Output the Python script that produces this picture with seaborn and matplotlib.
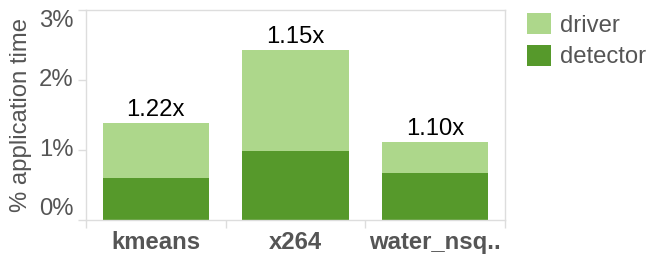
import matplotlib
matplotlib.use("Agg")
import matplotlib.pyplot as plt
import seaborn as sns
import pandas as pd
from matplotlib.patches import Patch

categories = ["kmeans", "x264", "water_nsq.."]
detector = [0.60, 0.985, 0.665]
driver = [0.785, 1.445, 0.45]
speedup_labels = ["1.22x", "1.15x", "1.10x"]
y_ticks = [0, 1, 2, 3]
y_tick_labels = ["0%", "1%", "2%", "3%"]

light = "#add78b"
dark = "#56992b"
grey_text = "#555555"
frame = "#dddddd"
fs = 17.2

sns.set_theme(style="white")
plt.rcParams["font.family"] = ["Liberation Sans", "DejaVu Sans"]

total = [d + r for d, r in zip(detector, driver)]
df = pd.DataFrame({"cat": categories, "detector": detector, "total": total})

fig = plt.figure(figsize=(6.62, 2.54), dpi=100)
ax = fig.add_axes([86 / 662, 1 - 220 / 254, (505 - 86) / 662, 210 / 254])

sns.barplot(data=df, x="cat", y="total", color=light, width=0.76, ax=ax,
            saturation=1, edgecolor="none", linewidth=0)
sns.barplot(data=df, x="cat", y="detector", color=dark, width=0.76, ax=ax,
            saturation=1, edgecolor="none", linewidth=0)

ax.set_xlim(-0.5, 2.5)
ax.set_ylim(0, 3)

for i, (t, lab) in enumerate(zip(total, speedup_labels)):
    ax.annotate(lab, (i, t), xytext=(0, 1.5), textcoords="offset points",
                ha="center", va="bottom", fontsize=fs, color="black")

ax.set_yticks(y_ticks)
ax.set_yticklabels(y_tick_labels)
for lab, v in zip(ax.get_yticklabels(), y_ticks):
    if v == y_ticks[0]:
        lab.set_va("bottom")
    elif v == y_ticks[-1]:
        lab.set_va("top")
    else:
        lab.set_va("center")
ax.tick_params(axis="y", length=6, width=1, color=frame, labelsize=fs,
               labelcolor=grey_text, pad=3, left=True)

ax.set_xticks(range(len(categories)))
ax.set_xticklabels(categories, fontweight="bold")
ax.set_xticks([-0.5, 0.5, 1.5, 2.5], minor=True)
ax.tick_params(axis="x", which="major", length=0, labelsize=fs,
               labelcolor=grey_text, pad=8)
ax.tick_params(axis="x", which="minor", length=6, width=1, color=frame,
               bottom=True)

ax.set_xlabel("")
ax.set_ylabel("% application time", fontsize=fs, color=grey_text, labelpad=5)

for s in ax.spines.values():
    s.set_visible(True)
    s.set_color(frame)
    s.set_linewidth(1)

handles = [Patch(facecolor=light, edgecolor="none", label="driver"),
           Patch(facecolor=dark, edgecolor="none", label="detector")]
leg = fig.legend(handles=handles, loc="upper left",
                 bbox_to_anchor=(522 / 662, 1 - 8 / 254),
                 frameon=False, fontsize=fs, handlelength=1.0,
                 handleheight=1.0, handletextpad=0.4, labelspacing=0.33,
                 borderaxespad=0, borderpad=0.2)
for t in leg.get_texts():
    t.set_color(grey_text)

fig.savefig("out.png", dpi=100)
